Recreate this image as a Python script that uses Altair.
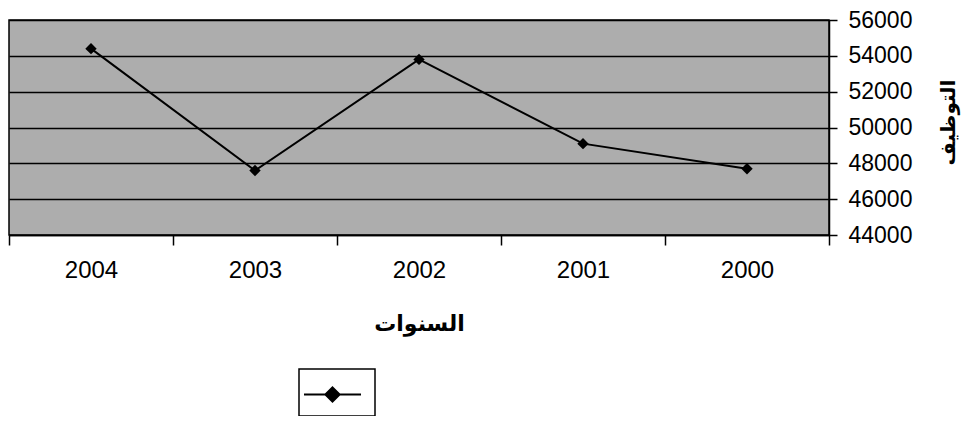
import altair as alt
import pandas as pd

years = ["2000", "2001", "2002", "2003", "2004"]
values = [47700, 49100, 53800, 47600, 54400]
series = ["التوظيف"]
y_ticks = [44000, 46000, 48000, 50000, 52000, 54000, 56000]

left_to_right = years[::-1]
n = len(years)
df = pd.DataFrame({
    "year": years,
    "value": values,
    "pos": [n - 1 - i + 0.5 for i in range(n)],
    "series": series * n,
})

label_list = "[" + ",".join("'" + y + "'" for y in left_to_right) + "]"
x_vals = [i / 2 for i in range(2 * n + 1)]

x_enc = alt.X(
    "pos:Q",
    scale=alt.Scale(domain=[0, n], nice=False, zero=False),
    axis=alt.Axis(
        values=x_vals,
        labelExpr=f"floor(datum.value) == datum.value ? '' : {label_list}[floor(datum.value)]",
        labelOverlap=False,
        labelBound=False,
        labelFlush=False,
        tickOpacity={"condition": {"test": "floor(datum.value) != datum.value", "value": 0}, "value": 1},
        tickSize=10,
        tickColor="black",
        tickWidth=1.5,
        domainColor="black",
        domainWidth=1.5,
        grid=False,
        labelFont="Liberation Sans",
        labelFontSize=24,
        labelColor="black",
        labelPadding=13,
        title="السنوات",
        titleFont="DejaVu Sans",
        titleFontSize=22,
        titleFontWeight="bold",
        titleColor="black",
        titleBaseline="alphabetic",
        titleY=95,
    ),
)

y_enc = alt.Y(
    "value:Q",
    scale=alt.Scale(domain=[44000, 56000], nice=False, zero=False),
    axis=alt.Axis(
        orient="right",
        values=y_ticks,
        format="d",
        grid=True,
        gridColor="black",
        gridWidth=1.5,
        domainColor="black",
        domainWidth=1.5,
        tickColor="black",
        tickWidth=1.5,
        tickSize=8,
        labelPadding=11,
        labelFont="Liberation Sans",
        labelFontSize=23,
        labelColor="black",
        title="التوظيف",
        titleFont="DejaVu Sans",
        titleFontSize=20,
        titleFontWeight="bold",
        titleColor="black",
        titleAngle=270,
        titleAlign="center",
        titleBaseline="middle",
        titleX=119,
        titleY=102,
    ),
)

color_enc = alt.Color(
    "series:N",
    scale=alt.Scale(range=["black"]),
    legend=alt.Legend(
        title=None,
        orient="none",
        legendX=290,
        legendY=349,
        symbolType="M-2,0H2M0,-0.5L0.5,0L0,0.5L-0.5,0Z",
        symbolSize=812,
        symbolOffset=8,
        symbolStrokeWidth=2,
        symbolFillColor="black",
        symbolStrokeColor="black",
        labelExpr="''",
        labelOffset=0,
        labelFontSize=1,
        padding=10,
        strokeColor="black",
        fillColor="white",
    ),
)

base = alt.Chart(df).encode(x=x_enc, y=y_enc, color=color_enc)
line = base.mark_line(strokeWidth=2)
pts = base.mark_point(shape="diamond", filled=True, size=130, opacity=1)

chart = (
    alt.layer(line, pts)
    .properties(
        width=820,
        height=215,
        autosize=alt.AutoSizeParams(type="none"),
        padding={"left": 1, "top": 12, "right": 132, "bottom": 181},
        background="white",
    )
    .configure_view(fill="#adadad", stroke="black", strokeWidth=1.5)
    .configure_legend(strokeWidth=1.5)
)

chart.save("out.html", embed_options={"renderer": "svg", "actions": False})
